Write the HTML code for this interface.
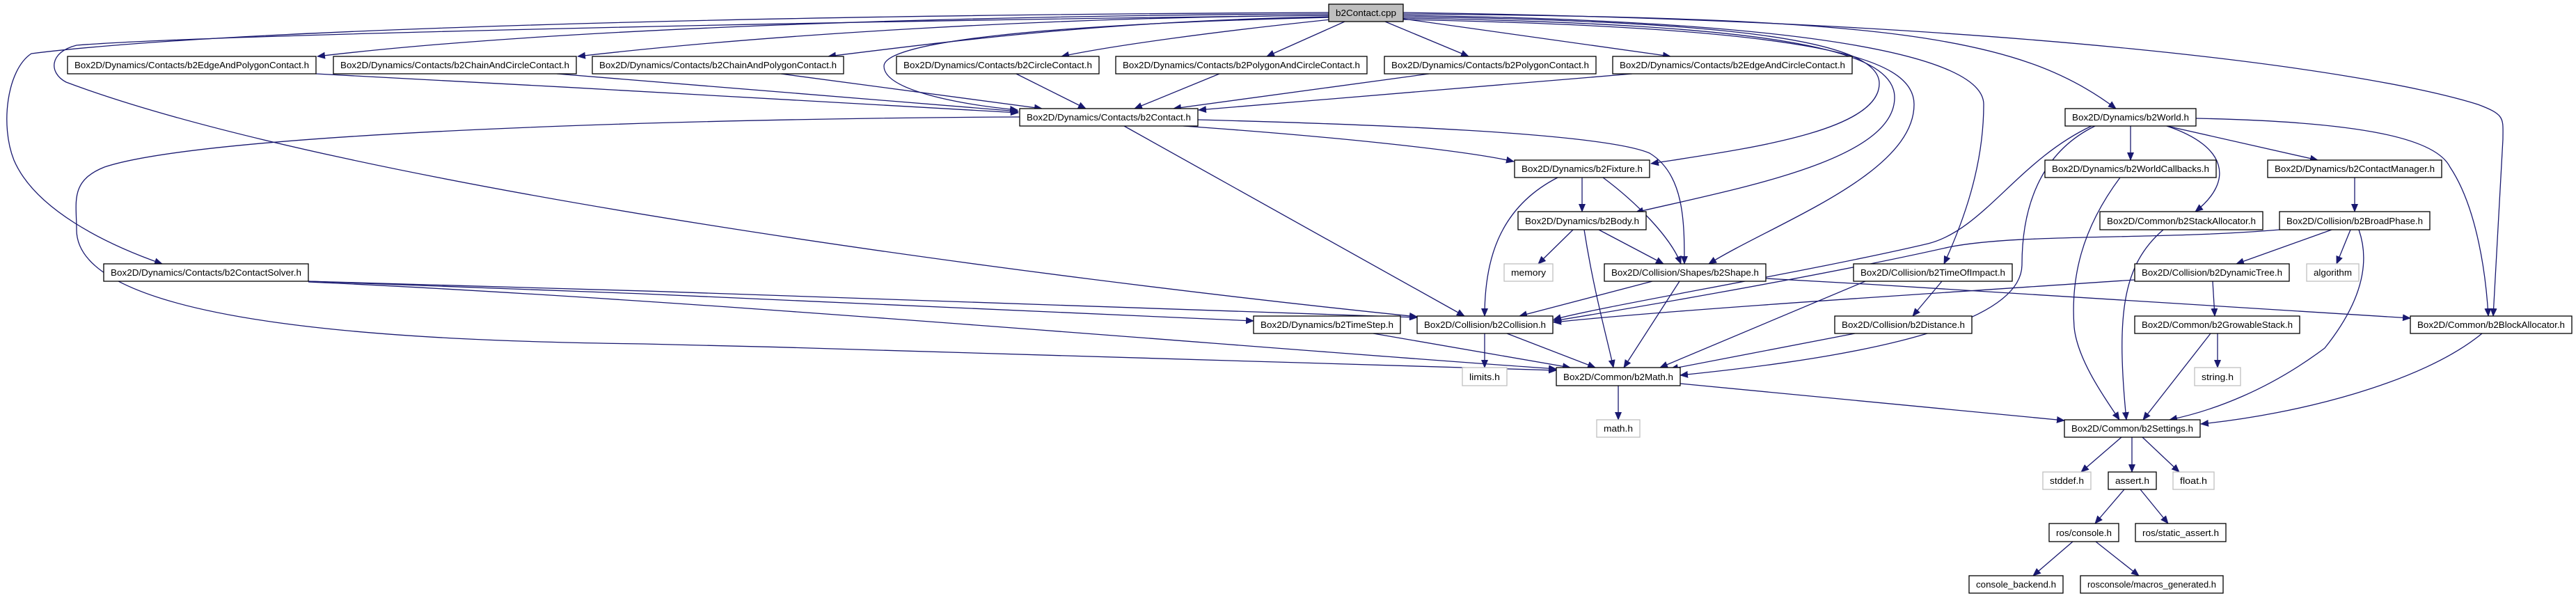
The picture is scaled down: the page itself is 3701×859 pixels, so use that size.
<!DOCTYPE html>
<html><head><meta charset="utf-8"><style>
html,body{margin:0;padding:0;background:#fff;}
svg{display:block;}
text{font-family:"Liberation Sans Narrow","Liberation Sans",sans-serif;font-size:13px;fill:#000;}
.e{fill:none;stroke:#191970;stroke-width:1.3;marker-end:url(#a);}
.n{fill:#fff;stroke:#000;stroke-width:1.3;}
.g{fill:#fff;stroke:#bfbfbf;stroke-width:1.3;}
</style></head><body>
<svg width="3701" height="859" viewBox="0 0 3701 859" xmlns="http://www.w3.org/2000/svg">
<defs><marker id="a" markerWidth="12" markerHeight="10" refX="11" refY="5" orient="auto" markerUnits="userSpaceOnUse"><path d="M0,0 L12,5 L0,10 z" fill="#191970"/></marker></defs>
<g>
<path class="e" d="M1909,20 C1400,22 800,40 456,81"/>
<path class="e" d="M1909,22 C1500,25 1100,50 830,81"/>
<path class="e" d="M1909,24 C1600,30 1400,55 1190,81"/>
<path class="e" d="M1912,28 C1750,45 1600,65 1525,81"/>
<path class="e" d="M1932,31 L1820,81"/>
<path class="e" d="M1990,31 L2110,81"/>
<path class="e" d="M2016,27 L2400,81"/>
<path class="e" d="M1909,18 C1000,22 300,45 45,77 C10,100 0,180 20,230 C50,300 150,350 233,379"/>
<path class="e" d="M1909,25 C1500,35 1270,60 1270,95 C1270,130 1380,150 1462,158"/>
<path class="e" d="M1909,22 C1200,30 300,50 110,65 C70,75 70,105 95,118 C500,270 1500,400 2036,455"/>
<path class="e" d="M2016,24 C2500,30 2700,60 2700,120 C2700,190 2500,215 2372,235"/>
<path class="e" d="M2016,26 C2550,35 2722,70 2722,140 C2722,230 2500,270 2350,305"/>
<path class="e" d="M2016,28 C2600,40 2750,80 2750,150 C2750,250 2550,320 2455,379"/>
<path class="e" d="M2016,22 C2600,30 2850,80 2850,150 C2850,240 2820,320 2793,379"/>
<path class="e" d="M2016,20 C2700,25 2900,50 3040,156"/>
<path class="e" d="M2016,18 C2900,30 3400,100 3560,150 C3600,165 3596,170 3596,200 L3582,454"/>
<path class="e" d="M454,106 C800,125 1300,150 1463,162"/>
<path class="e" d="M800,106 C1100,130 1350,150 1463,160"/>
<path class="e" d="M1122,106 L1497,156"/>
<path class="e" d="M1460,106 L1560,156"/>
<path class="e" d="M1752,106 L1630,156"/>
<path class="e" d="M2053,106 L1686,156"/>
<path class="e" d="M2345,106 L1722,158"/>
<path class="e" d="M1700,181 C1900,195 2100,215 2175,232"/>
<path class="e" d="M1721,172 C1950,178 2300,190 2370,220 C2420,250 2420,320 2420,379"/>
<path class="e" d="M1615,181 L2104,454"/>
<path class="e" d="M1465,168 C1000,170 300,190 150,240 C100,260 110,290 110,330 C110,470 600,490 925,494 C1400,505 1900,520 2236,532"/>
<path class="e" d="M2273,255 L2273,304"/>
<path class="e" d="M2303,255 C2350,290 2400,340 2415,379"/>
<path class="e" d="M2238,255 C2150,300 2133,380 2133,454"/>
<path class="e" d="M2260,330 L2210,379"/>
<path class="e" d="M2297,330 L2390,379"/>
<path class="e" d="M2276,330 C2290,420 2310,490 2318,528"/>
<path class="e" d="M2374,404 L2183,454"/>
<path class="e" d="M2413,404 L2333,528"/>
<path class="e" d="M2537,400 C2900,420 3300,445 3463,457"/>
<path class="e" d="M3061,181 L3061,230"/>
<path class="e" d="M3113,181 L3330,230"/>
<path class="e" d="M3113,181 C3200,210 3210,260 3154,304"/>
<path class="e" d="M3155,170 C3400,175 3500,200 3520,240 C3560,300 3572,400 3575,454"/>
<path class="e" d="M3010,181 C2930,220 2905,300 2905,380 C2905,480 2600,520 2414,539"/>
<path class="e" d="M3005,181 C2900,230 2850,330 2770,350 C2600,390 2300,440 2232,459"/>
<path class="e" d="M3383,255 L3383,304"/>
<path class="e" d="M3350,330 L3213,379"/>
<path class="e" d="M3377,330 L3357,379"/>
<path class="e" d="M3389,330 C3410,390 3380,450 3340,500 C3260,560 3180,590 3117,603"/>
<path class="e" d="M3275,330 C3100,345 2900,335 2800,355 C2600,400 2300,450 2232,461"/>
<path class="e" d="M3108,330 C3050,380 3040,450 3055,603"/>
<path class="e" d="M3046,255 C2990,330 2975,400 2980,470 C2985,520 3030,580 3045,603"/>
<path class="e" d="M2790,404 L2748,454"/>
<path class="e" d="M2680,404 L2385,528"/>
<path class="e" d="M3179,404 L3182,454"/>
<path class="e" d="M3067,402 C2800,420 2400,445 2232,463"/>
<path class="e" d="M2665,479 L2400,530"/>
<path class="e" d="M1973,479 L2256,528"/>
<path class="e" d="M2133,479 L2133,528"/>
<path class="e" d="M2165,479 L2292,528"/>
<path class="e" d="M443,404 C900,420 1500,445 1801,461"/>
<path class="e" d="M443,404 C1000,420 1700,440 2036,456"/>
<path class="e" d="M443,405 C1000,430 1800,500 2236,530"/>
<path class="e" d="M3186,479 L3186,528"/>
<path class="e" d="M3176,479 L3079,603"/>
<path class="e" d="M3566,479 C3480,550 3300,595 3162,609"/>
<path class="e" d="M2325,554 L2325,603"/>
<path class="e" d="M2414,551 L2966,604"/>
<path class="e" d="M3048,628 L2990,678"/>
<path class="e" d="M3063,628 L3063,678"/>
<path class="e" d="M3078,628 L3131,678"/>
<path class="e" d="M3052,703 L3010,752"/>
<path class="e" d="M3075,703 L3115,752"/>
<path class="e" d="M2978,778 L2921,827"/>
<path class="e" d="M3011,778 L3073,827"/>
</g>
<g>
<rect x="1909" y="6" width="107" height="25" fill="#bfbfbf" stroke="#000" stroke-width="1.3"/><text x="1919" y="23" textLength="87" lengthAdjust="spacingAndGlyphs">b2Contact.cpp</text>
<rect class="n" x="97" y="81" width="357" height="25"/><text x="107" y="98" textLength="337" lengthAdjust="spacingAndGlyphs">Box2D/Dynamics/Contacts/b2EdgeAndPolygonContact.h</text>
<rect class="n" x="479" y="81" width="349" height="25"/><text x="489" y="98" textLength="329" lengthAdjust="spacingAndGlyphs">Box2D/Dynamics/Contacts/b2ChainAndCircleContact.h</text>
<rect class="n" x="851" y="81" width="361" height="25"/><text x="861" y="98" textLength="341" lengthAdjust="spacingAndGlyphs">Box2D/Dynamics/Contacts/b2ChainAndPolygonContact.h</text>
<rect class="n" x="1288" y="81" width="291" height="25"/><text x="1298" y="98" textLength="271" lengthAdjust="spacingAndGlyphs">Box2D/Dynamics/Contacts/b2CircleContact.h</text>
<rect class="n" x="1603" y="81" width="361" height="25"/><text x="1613" y="98" textLength="341" lengthAdjust="spacingAndGlyphs">Box2D/Dynamics/Contacts/b2PolygonAndCircleContact.h</text>
<rect class="n" x="1989" y="81" width="304" height="25"/><text x="1999" y="98" textLength="284" lengthAdjust="spacingAndGlyphs">Box2D/Dynamics/Contacts/b2PolygonContact.h</text>
<rect class="n" x="2317" y="81" width="344" height="25"/><text x="2327" y="98" textLength="324" lengthAdjust="spacingAndGlyphs">Box2D/Dynamics/Contacts/b2EdgeAndCircleContact.h</text>
<rect class="n" x="1465" y="156" width="256" height="25"/><text x="1475" y="173" textLength="236" lengthAdjust="spacingAndGlyphs">Box2D/Dynamics/Contacts/b2Contact.h</text>
<rect class="n" x="2967" y="156" width="188" height="25"/><text x="2977" y="173" textLength="168" lengthAdjust="spacingAndGlyphs">Box2D/Dynamics/b2World.h</text>
<rect class="n" x="2176" y="230" width="194" height="25"/><text x="2186" y="247" textLength="174" lengthAdjust="spacingAndGlyphs">Box2D/Dynamics/b2Fixture.h</text>
<rect class="n" x="2938" y="230" width="246" height="25"/><text x="2948" y="247" textLength="226" lengthAdjust="spacingAndGlyphs">Box2D/Dynamics/b2WorldCallbacks.h</text>
<rect class="n" x="3258" y="230" width="250" height="25"/><text x="3268" y="247" textLength="230" lengthAdjust="spacingAndGlyphs">Box2D/Dynamics/b2ContactManager.h</text>
<rect class="n" x="2181" y="304" width="184" height="26"/><text x="2191" y="322" textLength="164" lengthAdjust="spacingAndGlyphs">Box2D/Dynamics/b2Body.h</text>
<rect class="n" x="3017" y="304" width="234" height="26"/><text x="3027" y="322" textLength="214" lengthAdjust="spacingAndGlyphs">Box2D/Common/b2StackAllocator.h</text>
<rect class="n" x="3275" y="304" width="216" height="26"/><text x="3285" y="322" textLength="196" lengthAdjust="spacingAndGlyphs">Box2D/Collision/b2BroadPhase.h</text>
<rect class="n" x="149" y="379" width="294" height="25"/><text x="159" y="396" textLength="274" lengthAdjust="spacingAndGlyphs">Box2D/Dynamics/Contacts/b2ContactSolver.h</text>
<rect class="g" x="2161" y="379" width="70" height="25"/><text x="2171" y="396" textLength="50" lengthAdjust="spacingAndGlyphs">memory</text>
<rect class="n" x="2305" y="379" width="232" height="25"/><text x="2315" y="396" textLength="212" lengthAdjust="spacingAndGlyphs">Box2D/Collision/Shapes/b2Shape.h</text>
<rect class="n" x="2663" y="379" width="228" height="25"/><text x="2673" y="396" textLength="208" lengthAdjust="spacingAndGlyphs">Box2D/Collision/b2TimeOfImpact.h</text>
<rect class="n" x="3067" y="379" width="222" height="25"/><text x="3077" y="396" textLength="202" lengthAdjust="spacingAndGlyphs">Box2D/Collision/b2DynamicTree.h</text>
<rect class="g" x="3314" y="379" width="75" height="25"/><text x="3324" y="396" textLength="55" lengthAdjust="spacingAndGlyphs">algorithm</text>
<rect class="n" x="1801" y="454" width="211" height="25"/><text x="1811" y="471" textLength="191" lengthAdjust="spacingAndGlyphs">Box2D/Dynamics/b2TimeStep.h</text>
<rect class="n" x="2036" y="454" width="195" height="25"/><text x="2046" y="471" textLength="175" lengthAdjust="spacingAndGlyphs">Box2D/Collision/b2Collision.h</text>
<rect class="n" x="2636" y="454" width="197" height="25"/><text x="2646" y="471" textLength="177" lengthAdjust="spacingAndGlyphs">Box2D/Collision/b2Distance.h</text>
<rect class="n" x="3067" y="454" width="237" height="25"/><text x="3077" y="471" textLength="217" lengthAdjust="spacingAndGlyphs">Box2D/Common/b2GrowableStack.h</text>
<rect class="n" x="3463" y="454" width="232" height="25"/><text x="3473" y="471" textLength="212" lengthAdjust="spacingAndGlyphs">Box2D/Common/b2BlockAllocator.h</text>
<rect class="g" x="2101" y="528" width="64" height="26"/><text x="2111" y="546" textLength="44" lengthAdjust="spacingAndGlyphs">limits.h</text>
<rect class="n" x="2236" y="528" width="178" height="26"/><text x="2246" y="546" textLength="158" lengthAdjust="spacingAndGlyphs">Box2D/Common/b2Math.h</text>
<rect class="g" x="3153" y="528" width="66" height="26"/><text x="3163" y="546" textLength="46" lengthAdjust="spacingAndGlyphs">string.h</text>
<rect class="g" x="2294" y="603" width="62" height="25"/><text x="2304" y="620" textLength="42" lengthAdjust="spacingAndGlyphs">math.h</text>
<rect class="n" x="2966" y="603" width="195" height="25"/><text x="2976" y="620" textLength="175" lengthAdjust="spacingAndGlyphs">Box2D/Common/b2Settings.h</text>
<rect class="g" x="2935" y="678" width="69" height="25"/><text x="2945" y="695" textLength="49" lengthAdjust="spacingAndGlyphs">stddef.h</text>
<rect class="n" x="3029" y="678" width="69" height="25"/><text x="3039" y="695" textLength="49" lengthAdjust="spacingAndGlyphs">assert.h</text>
<rect class="g" x="3122" y="678" width="59" height="25"/><text x="3132" y="695" textLength="39" lengthAdjust="spacingAndGlyphs">float.h</text>
<rect class="n" x="2944" y="752" width="100" height="26"/><text x="2954" y="770" textLength="80" lengthAdjust="spacingAndGlyphs">ros/console.h</text>
<rect class="n" x="3068" y="752" width="130" height="26"/><text x="3078" y="770" textLength="110" lengthAdjust="spacingAndGlyphs">ros/static_assert.h</text>
<rect class="n" x="2829" y="827" width="135" height="25"/><text x="2839" y="844" textLength="115" lengthAdjust="spacingAndGlyphs">console_backend.h</text>
<rect class="n" x="2989" y="827" width="205" height="25"/><text x="2999" y="844" textLength="185" lengthAdjust="spacingAndGlyphs">rosconsole/macros_generated.h</text>
</g>
</svg>
</body></html>
